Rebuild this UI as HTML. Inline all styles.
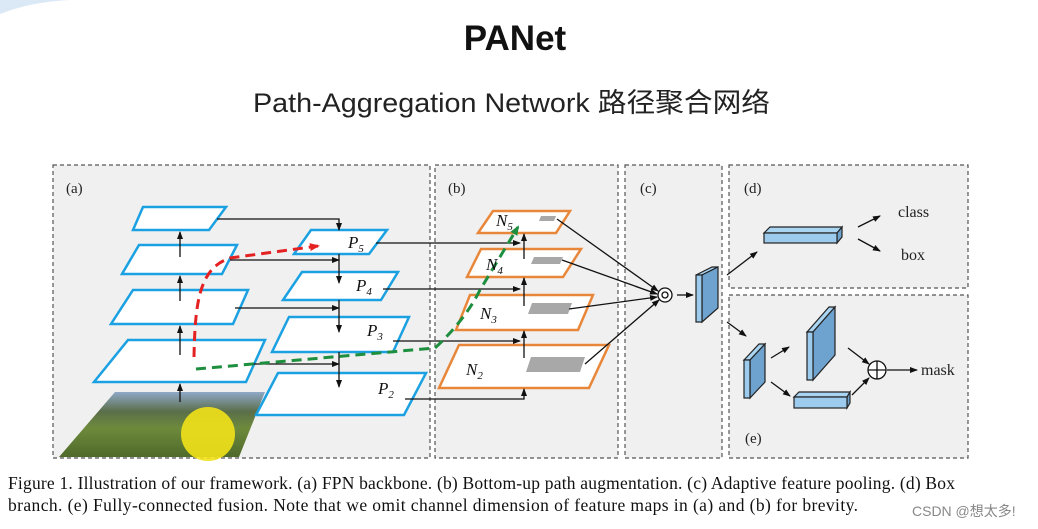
<!DOCTYPE html>
<html><head><meta charset="utf-8"><style>
html,body{margin:0;padding:0;background:#fff;}
svg{display:block;}
</style></head><body>
<svg width="1038" height="529" viewBox="0 0 1038 529" xmlns="http://www.w3.org/2000/svg">
<defs>
<marker id="ar" markerWidth="8" markerHeight="8" refX="7" refY="4" orient="auto" markerUnits="userSpaceOnUse"><path d="M0,1 L8,4 L0,7 Z" fill="#111"/></marker>
<marker id="rr" markerWidth="10" markerHeight="10" refX="8" refY="5" orient="auto" markerUnits="userSpaceOnUse"><path d="M0,1 L10,5 L0,9 Z" fill="#e52222"/></marker>
<marker id="gr" markerWidth="10" markerHeight="10" refX="8" refY="5" orient="auto" markerUnits="userSpaceOnUse"><path d="M0,1 L10,5 L0,9 Z" fill="#1e8f3e"/></marker>
<linearGradient id="img" x1="0" y1="0" x2="0" y2="1">
<stop offset="0" stop-color="#8fa8c8"/><stop offset="0.3" stop-color="#5b6e4a"/><stop offset="0.55" stop-color="#6d8a3c"/><stop offset="1" stop-color="#4f6a2a"/></linearGradient>
</defs>
<path d="M0,14 Q30,2 70,0 L0,0 Z" fill="#dbe8f5"/>
<text x="515" y="50" text-anchor="middle" font-family="Liberation Sans, sans-serif" font-weight="bold" font-size="35" fill="#111">PANet</text>
<text x="253" y="112" textLength="517" lengthAdjust="spacingAndGlyphs" font-family="Liberation Sans, 'Noto Sans CJK SC', sans-serif" font-size="27" fill="#222">Path-Aggregation Network 路径聚合网络</text>

<g fill="#f0f0f0" stroke="#555" stroke-width="1.2" stroke-dasharray="4,3">
<rect x="53" y="165" width="377" height="293"/>
<rect x="435" y="165" width="183" height="293"/>
<rect x="625" y="165" width="97" height="293"/>
<rect x="729" y="165" width="239" height="123"/>
<rect x="729" y="295" width="239" height="163"/>
</g>
<g font-family="Liberation Serif, serif" font-size="15" fill="#222">
<text x="66" y="193">(a)</text><text x="448" y="193">(b)</text><text x="640" y="193">(c)</text><text x="744" y="193">(d)</text><text x="745" y="443">(e)</text>
</g>

<polygon points="115,392 265,392 239,457 59,457" fill="url(#img)"/>
<circle cx="208" cy="434" r="27" fill="#f2e21a" opacity="0.9"/>

<g fill="#fff" stroke="#1ba1e2" stroke-width="2.5">
<polygon points="143,207 226,207 209,230 133,230"/>
<polygon points="139,245 237,245 222,274 122,274"/>
<polygon points="133,290 248,290 233,324 111,324"/>
<polygon points="128,340 265,340 246,382 94,382"/>
<polygon points="311,230 387,230 369,254 294,254"/>
<polygon points="302,272 398,272 381,300 283,300"/>
<polygon points="289,317 409,317 393,352 272,352"/>
<polygon points="278,373 426,373 404,415 256,415"/>
</g>
<g fill="#fff" stroke="#e8873a" stroke-width="2.5">
<polygon points="493,211 570,211 556,233 478,233"/>
<polygon points="481,249 581,249 563,277 467,277"/>
<polygon points="470,295 593,295 578,330 456,330"/>
<polygon points="459,345 609,345 589,388 439,388"/>
</g>
<g fill="#a8a8a8">
<polygon points="541,216 556,216 554,221 539,221"/>
<polygon points="534,257 563,257 560,264 531,264"/>
<polygon points="532,303 572,303 568,314 528,314"/>
<polygon points="531,357 585,357 580,372 526,372"/>
</g>

<g stroke="#111" stroke-width="1.3" fill="none" marker-end="url(#ar)">
<path d="M180,257 V232"/><path d="M180,301 V276"/><path d="M180,355 V326"/><path d="M180,402 V384"/>
<path d="M217,219 H339 V230"/>
<path d="M339,254 V283"/><path d="M339,300 V332"/><path d="M339,352 V387"/>
<path d="M230,260 H339"/><path d="M235,308 H339"/><path d="M250,364 H339"/>
<path d="M376,243 H520"/><path d="M383,289 H520"/><path d="M393,341 H520"/>
<path d="M405,399 H524 V389"/>
<path d="M524,358 V331"/><path d="M524,306 V278"/><path d="M524,259 V234"/>
<path d="M557,219 L658,291"/><path d="M562,260 L657,294"/><path d="M569,309 L657,297"/><path d="M585,364 L659,300"/>
<path d="M677,295 H693"/>
<path d="M727,275 L757,252"/><path d="M727,322 L746,336"/>
<path d="M858,227 L880,216"/><path d="M858,239 L880,251"/>
<path d="M771,358 L789,347"/><path d="M771,382 L790,396"/>
<path d="M848,348 L869,364"/><path d="M852,395 L869,378"/>
<path d="M887,370 H917"/>
</g>

<path d="M194,357 C195,300 200,268 230,258 L318,246" stroke="#e52222" stroke-width="3" stroke-dasharray="10,6" fill="none" marker-end="url(#rr)"/>
<path d="M196,369 L435,348 Q465,320 480,290 L518,227" stroke="#1e8f3e" stroke-width="3" stroke-dasharray="10,6" fill="none" marker-end="url(#gr)"/>

<g font-family="Liberation Serif, serif" font-style="italic" font-size="17" fill="#111">
<text x="348" y="248">P<tspan font-size="11" dy="4">5</tspan></text>
<text x="356" y="291">P<tspan font-size="11" dy="4">4</tspan></text>
<text x="367" y="336">P<tspan font-size="11" dy="4">3</tspan></text>
<text x="378" y="394">P<tspan font-size="11" dy="4">2</tspan></text>
<text x="496" y="226">N<tspan font-size="11" dy="4">5</tspan></text>
<text x="486" y="270">N<tspan font-size="11" dy="4">4</tspan></text>
<text x="480" y="319">N<tspan font-size="11" dy="4">3</tspan></text>
<text x="466" y="375">N<tspan font-size="11" dy="4">2</tspan></text>
</g>

<circle cx="665" cy="295" r="7" fill="#fff" stroke="#111" stroke-width="1.3"/>
<circle cx="665" cy="295" r="3" fill="none" stroke="#111" stroke-width="1.3"/>

<g stroke="#222" stroke-width="1.2">
<polygon points="696,275 712,267 718,267 702,275" fill="#a9d4f2"/>
<polygon points="702,275 718,267 718,308 702,322" fill="#6fa3cf"/>
<rect x="696" y="275" width="6" height="47" fill="#9ccbee"/>
<polygon points="764,233 770,227 842,227 837,233" fill="#a9d4f2"/>
<polygon points="837,233 842,227 842,237 837,243" fill="#6fa3cf"/>
<rect x="764" y="233" width="73" height="10" fill="#9ccbee"/>
<polygon points="744,360 759,344 765,344 750,360" fill="#a9d4f2"/>
<polygon points="750,360 765,344 765,382 750,398" fill="#6fa3cf"/>
<rect x="744" y="360" width="6" height="38" fill="#9ccbee"/>
<polygon points="807,332 829,307 835,307 813,332" fill="#a9d4f2"/>
<polygon points="813,332 835,307 835,355 813,380" fill="#6fa3cf"/>
<rect x="807" y="332" width="6" height="48" fill="#9ccbee"/>
<polygon points="794,397 799,392 850,392 847,397" fill="#a9d4f2"/>
<polygon points="847,397 850,392 850,403 847,408" fill="#6fa3cf"/>
<rect x="794" y="397" width="53" height="11" fill="#9ccbee"/>
</g>
<circle cx="877" cy="370" r="9" fill="#fff" stroke="#111" stroke-width="1.3"/>
<path d="M868,370 H886 M877,361 V379" stroke="#111" stroke-width="1.3"/>

<g font-family="Liberation Serif, serif" font-size="16" fill="#222">
<text x="898" y="217">class</text>
<text x="901" y="260">box</text>
<text x="921" y="375">mask</text>
</g>

<g font-family="Liberation Serif, serif" font-size="17.5" fill="#111">
<text x="8" y="489" textLength="947" lengthAdjust="spacing">Figure 1. Illustration of our framework. (a) FPN backbone. (b) Bottom-up path augmentation. (c) Adaptive feature pooling. (d) Box</text>
<text x="8" y="511" textLength="850" lengthAdjust="spacing">branch. (e) Fully-connected fusion. Note that we omit channel dimension of feature maps in (a) and (b) for brevity.</text>
</g>
<text x="912" y="516" font-family="Liberation Sans, 'Noto Sans CJK SC', sans-serif" font-size="14" fill="#888">CSDN @想太多!</text>
</svg>
</body></html>
